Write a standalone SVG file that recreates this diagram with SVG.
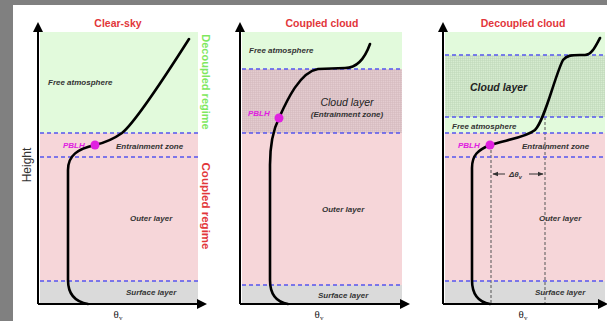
<svg xmlns="http://www.w3.org/2000/svg" width="607" height="321" viewBox="0 0 607 321">
<defs>
<style>
.title{font-family:"Liberation Sans",Arial,sans-serif;font-weight:bold;font-size:10.5px;fill:#e2363a;text-anchor:middle}
.lbl{font-family:"Liberation Sans",Arial,sans-serif;font-weight:bold;font-style:italic;font-size:8px;fill:#333}
.pblh{font-family:"Liberation Sans",Arial,sans-serif;font-weight:bold;font-style:italic;font-size:8px;fill:#e020e0}
.cloud{font-family:"Liberation Sans",Arial,sans-serif;font-style:italic;font-weight:bold;font-size:10.5px;fill:#222}
.ax{stroke:#000;stroke-width:2;fill:none}
.dash{stroke:#5555ee;stroke-width:1.4;stroke-dasharray:4,3;fill:none}
.prof{stroke:#000;stroke-width:2.6;fill:none;stroke-linecap:round}
.vd{stroke:#555;stroke-width:1;stroke-dasharray:3,2;fill:none}
.green{fill:#e2fadc}
.pink{fill:#f6d6d9}
.grey{fill:#dadada}
.theta{font-family:"Liberation Serif","Times New Roman",serif;font-size:11px;fill:#222;text-anchor:middle}
</style>
<marker id="ah" viewBox="0 0 10 10" refX="8" refY="5" markerWidth="5" markerHeight="5" orient="auto-start-reverse"><path d="M0,0 L10,5 L0,10 z" fill="#000"/></marker>
<marker id="sa" viewBox="0 0 10 10" refX="9" refY="5" markerWidth="6" markerHeight="6" orient="auto-start-reverse"><path d="M0,1 L10,5 L0,9 z" fill="#333"/></marker>
<pattern id="gridPink" width="2" height="2" patternUnits="userSpaceOnUse"><rect width="2" height="2" fill="#e4ccd0"/><path d="M0,0.5 H2 M0.5,0 V2" stroke="#d2b8bc" stroke-width="0.5"/></pattern>
<pattern id="gridGreen" width="2" height="2" patternUnits="userSpaceOnUse"><rect width="2" height="2" fill="#d6ecd0"/><path d="M0,0.5 H2 M0.5,0 V2" stroke="#bfd6b8" stroke-width="0.5"/></pattern>
</defs>
<rect width="607" height="321" fill="#fff"/>
<rect x="0" y="0" width="607" height="5" fill="#808080"/>
<rect x="0" y="0" width="13" height="321" fill="#808080"/>

<text x="28" y="165" transform="rotate(-90 28 165)" font-family="Liberation Sans, Arial, sans-serif" font-size="12" fill="#333" text-anchor="middle" dominant-baseline="middle">Height</text>

<g id="panel-clear-sky">
<rect class="green" x="40" y="32" width="158" height="101"/>
<rect class="pink" x="40" y="133" width="158" height="148"/>
<rect class="grey" x="40" y="281" width="158" height="23"/>
<text class="title" x="118" y="27">Clear-sky</text>
<text class="lbl" x="48" y="85">Free atmosphere</text>
<text class="lbl" x="116" y="149">Entrainment zone</text>
<text class="lbl" x="130" y="221">Outer layer</text>
<text class="lbl" x="126" y="295">Surface layer</text>
<text class="pblh" x="63" y="148">PBLH</text>
<text class="theta" x="118" y="318">θ<tspan font-size="7" dy="2">v</tspan></text>
</g>

<g id="regime-labels">
<text x="202" y="82" transform="rotate(90 202 82)" font-family="Liberation Sans, Arial, sans-serif" font-weight="bold" font-size="11" fill="#7ee85e" text-anchor="middle">Decoupled regime</text>
<text x="202" y="206" transform="rotate(90 202 206)" font-family="Liberation Sans, Arial, sans-serif" font-weight="bold" font-size="11.5" fill="#e2363a" text-anchor="middle">Coupled regime</text>
</g>

<g id="panel-coupled-cloud">
<rect class="green" x="242" y="32" width="160" height="37"/>
<rect fill="url(#gridPink)" x="242" y="69" width="160" height="64"/>
<rect class="pink" x="242" y="133" width="160" height="152"/>
<rect class="grey" x="242" y="285" width="160" height="19"/>
<text class="title" x="322" y="27">Coupled cloud</text>
<text class="lbl" x="249" y="53">Free atmosphere</text>
<text class="cloud" x="347" y="106" text-anchor="middle" style="font-weight:normal">Cloud layer</text>
<text class="lbl" x="347" y="117" text-anchor="middle">(Entrainment zone)</text>
<text class="lbl" x="322" y="212">Outer layer</text>
<text class="lbl" x="318" y="298">Surface layer</text>
<text class="pblh" x="248" y="116">PBLH</text>
<text class="theta" x="319" y="318">θ<tspan font-size="7" dy="2">v</tspan></text>
</g>

<g id="panel-decoupled-cloud">
<rect class="green" x="445" y="32" width="160" height="101"/>
<rect fill="url(#gridGreen)" x="445" y="55" width="160" height="62"/>
<rect class="pink" x="445" y="133" width="160" height="148"/>
<rect class="grey" x="445" y="281" width="160" height="23"/>
<text class="title" x="523" y="27">Decoupled cloud</text>
<text class="cloud" x="470" y="91">Cloud layer</text>
<text class="lbl" x="452" y="129">Free atmosphere</text>
<text class="lbl" x="522" y="149">Entrainment zone</text>
<text class="lbl" x="539" y="221">Outer layer</text>
<text class="lbl" x="535" y="295">Surface layer</text>
<text class="pblh" x="458" y="148">PBLH</text>
<text class="theta" x="523" y="318">θ<tspan font-size="7" dy="2">v</tspan></text>
<line class="vd" x1="491" y1="150" x2="491" y2="304"/>
<line class="vd" x1="545" y1="117" x2="545" y2="304"/>
<line x1="505" y1="174" x2="493" y2="174" stroke="#333" stroke-width="1" marker-end="url(#sa)"/>
<line x1="529" y1="174" x2="543" y2="174" stroke="#333" stroke-width="1" marker-end="url(#sa)"/>
<text x="509" y="177" font-family="Liberation Sans, Arial, sans-serif" font-style="italic" font-weight="bold" font-size="8" fill="#333">Δθ<tspan font-size="5.5" dy="2">v</tspan></text>
</g>

<g id="connectors">
<line class="dash" x1="40" y1="133" x2="198" y2="133"/>
<line class="dash" x1="40" y1="157" x2="198" y2="157"/>
<line class="dash" x1="40" y1="281" x2="198" y2="281"/>
<line class="dash" x1="242" y1="69" x2="402" y2="69"/>
<line class="dash" x1="242" y1="133" x2="402" y2="133"/>
<line class="dash" x1="242" y1="285" x2="402" y2="285"/>
<line class="dash" x1="445" y1="55" x2="605" y2="55"/>
<line class="dash" x1="445" y1="117" x2="605" y2="117"/>
<line class="dash" x1="445" y1="133" x2="605" y2="133"/>
<line class="dash" x1="445" y1="157" x2="605" y2="157"/>
<line class="dash" x1="445" y1="281" x2="605" y2="281"/>

<path class="ax" d="M38,304 V24" marker-end="url(#ah)"/>
<path class="ax" d="M38,304 H205" marker-end="url(#ah)"/>
<path class="ax" d="M240,304 V24" marker-end="url(#ah)"/>
<path class="ax" d="M240,304 H408" marker-end="url(#ah)"/>
<path class="ax" d="M443,304 V24" marker-end="url(#ah)"/>
<path class="ax" d="M443,304 H606" marker-end="url(#ah)"/>

<path class="prof" d="M88,304 C76,302 68,295 68,280 L68,170 C68,155 78,149 95,145 C108,142 115,138 122,133 C136,122 168,72 189,39"/>
<path class="prof" d="M288,304 C276,302 270,294 270,280 L270,165 C270,140 274,128 279,118 C287,100 300,72 318,69 L345,68 C358,68 365,58 370,44"/>
<path class="prof" d="M490,304 C478,302 472,294 472,280 L472,168 C472,155 478,150 490,145 C505,140 525,138 535,130 C545,120 555,75 563,60 C567,55 572,55 580,55 L585,55 C592,55 596,45 600,38"/>
<circle cx="95" cy="145" r="4.5" fill="#e020e0"/>
<circle cx="279" cy="118" r="4.5" fill="#e020e0"/>
<circle cx="490" cy="145" r="4.5" fill="#e020e0"/>
</g>
</svg>
